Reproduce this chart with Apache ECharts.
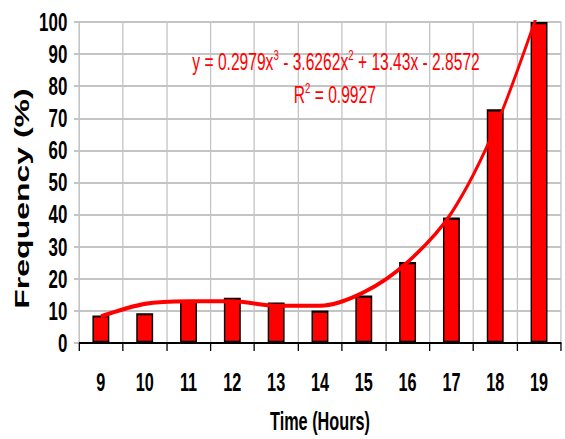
<!DOCTYPE html>
<html>
<head>
<meta charset="utf-8">
<script src="https://cdn.jsdelivr.net/npm/echarts@6/dist/echarts.min.js"></script>
<style>
  html, body { margin: 0; padding: 0; background: #fff; overflow: hidden; }
  /* the chart is laid out wide and squeezed horizontally to get the tall, condensed look */
  #main { width: 869px; height: 439px; transform: scaleX(0.65); transform-origin: 0 0; }
</style>
</head>
<body>
<div id="main"></div>
<script>
const hours = ['9', '10', '11', '12', '13', '14', '15', '16', '17', '18', '19'];
const frequency = [8.6, 9.3, 13.3, 14.1, 12.6, 10.1, 14.8, 25.2, 39.1, 72.8, 100];
const trend = [8.3, 12.2, 13.0, 13.0, 11.6, 11.6, 15.8, 25.2, 40.5, 67.0, 104.0];
const yTicks = { min: 0, max: 100, step: 10 };

const font = "'Liberation Sans', Arial, sans-serif";
const gridGray = '#c4c4c4';

const chart = echarts.init(document.getElementById('main'), null, { renderer: 'svg' });
chart.setOption({
  backgroundColor: '#ffffff',
  animation: false,
  grid: { left: 121.5, right: 6, top: 22, bottom: 94 },
  xAxis: {
    type: 'category',
    data: hours,
    name: 'Time (Hours)',
    nameLocation: 'middle',
    nameGap: 66,
    nameTextStyle: { fontFamily: font, fontWeight: 'bold', fontSize: 25, color: '#000' },
    axisLine: { lineStyle: { color: '#000', width: 2 } },
    axisTick: { show: true, length: 8, lineStyle: { color: '#000', width: 2 } },
    axisLabel: { margin: 27, fontFamily: font, fontWeight: 'bold', fontSize: 25, color: '#000' },
    splitLine: { show: true, lineStyle: { color: gridGray, width: 2 } }
  },
  yAxis: {
    type: 'value',
    min: yTicks.min,
    max: yTicks.max,
    interval: yTicks.step,
    name: 'Frequency (%)',
    nameLocation: 'middle',
    nameGap: 68,
    nameTextStyle: { fontFamily: font, fontWeight: 'bold', fontSize: 32, color: '#000', padding: [0, 32, 0, 0] },
    axisLine: { show: true, lineStyle: { color: gridGray, width: 2 } },
    axisTick: { show: true, length: 7.7, lineStyle: { color: gridGray, width: 2 } },
    axisLabel: { margin: 18, fontFamily: font, fontWeight: 'bold', fontSize: 26, color: '#000' },
    splitLine: { show: true, lineStyle: { color: gridGray, width: 2 } }
  },
  series: [
    {
      type: 'bar',
      data: frequency,
      barWidth: 26,
      itemStyle: { color: '#ff0000', borderColor: '#000', borderWidth: 2.2 },
      z: 2
    },
    {
      type: 'line',
      data: trend,
      smooth: 0.3,
      symbol: 'none',
      clip: true,
      lineStyle: { color: '#ff0000', width: 4.2 },
      z: 3
    }
  ],
  graphic: [
    {
      type: 'text',
      x: 517, y: 62,
      z: 10,
      style: {
        text: '{n|y = 0.2979x}{s|3}{n| - 3.6262x}{s|2}{n| + 13.43x - 2.8572}',
        align: 'center', verticalAlign: 'middle',
        fill: '#ff0000',
        rich: {
          n: { fontFamily: font, fontSize: 24, fill: '#ff0000', lineHeight: 30 },
          s: { fontFamily: font, fontSize: 15, fill: '#ff0000', padding: [0, 0, 14, 0] }
        }
      }
    },
    {
      type: 'text',
      x: 515, y: 95,
      z: 10,
      style: {
        text: '{n|R}{s|2}{n| = 0.9927}',
        align: 'center', verticalAlign: 'middle',
        fill: '#ff0000',
        rich: {
          n: { fontFamily: font, fontSize: 24, fill: '#ff0000', lineHeight: 30 },
          s: { fontFamily: font, fontSize: 15, fill: '#ff0000', padding: [0, 0, 14, 0] }
        }
      }
    }
  ]
});
</script>
</body>
</html>
